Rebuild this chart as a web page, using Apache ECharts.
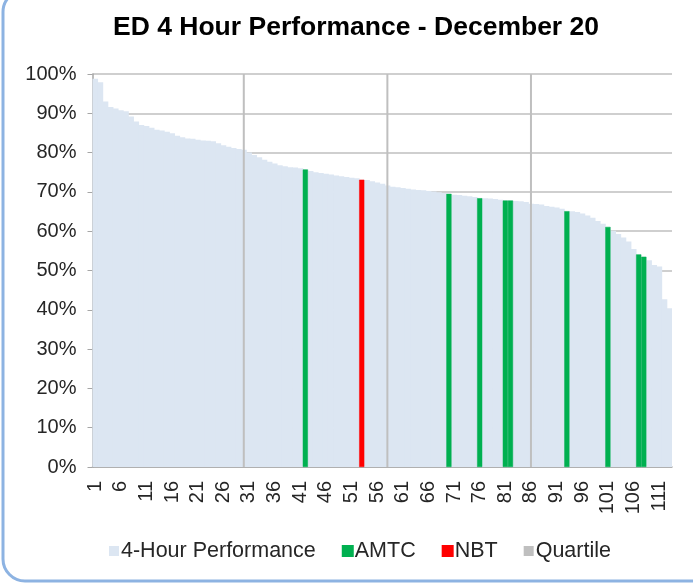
<!DOCTYPE html>
<html>
<head>
<meta charset="utf-8">
<script src="https://cdn.jsdelivr.net/npm/echarts@6/dist/echarts.min.js"></script>
<style>
  html, body { margin: 0; padding: 0; background: #fff; }
  #chart { width: 693px; height: 585px; }
</style>
</head>
<body>
<div id="chart"></div>
<script>
// 4-hour performance by trust, sorted high to low (percent)
var performance = [
    98.8, 97.9, 93.0, 91.6, 91.2, 90.8, 90.5, 89.2, 87.9, 87.0,
    86.8, 86.3, 85.8, 85.6, 85.3, 84.9, 84.3, 83.9, 83.6, 83.5,
    83.3, 83.1, 83.0, 82.9, 82.4, 81.9, 81.5, 81.2, 80.9, 80.7,
    80.0, 79.4, 78.8, 78.2, 77.7, 77.2, 76.8, 76.5, 76.3, 76.2,
    76.0, 75.7, 75.3, 75.0, 74.8, 74.6, 74.4, 74.2, 74.0, 73.8,
    73.6, 73.5, 73.1, 73.0, 72.7, 72.4, 72.1, 71.6, 71.3, 71.2,
    71.0, 70.8, 70.6, 70.5, 70.4, 70.2, 70.1, 69.9, 69.7, 69.5,
    69.3, 69.2, 69.0, 68.9, 68.7, 68.4, 68.4, 68.3, 68.2, 68.0,
    67.8, 67.8, 67.7, 67.6, 67.4, 67.0, 66.9, 66.8, 66.4, 66.2,
    66.0, 65.7, 65.1, 65.1, 64.9, 64.5, 64.0, 63.4, 62.6, 61.9,
    61.1, 60.1, 59.3, 58.4, 57.4, 55.5, 54.1, 53.5, 52.6, 51.4,
    51.0, 42.7, 40.4
];

// highlighted positions (1-based rank)
var amtcRanks = [42, 70, 76, 81, 82, 93, 101, 107, 108];
var nbtRanks = [53];
var quartileRanks = [30, 58, 86];
var quartileValue = 100;

var yTicks = { min: 0, max: 100, interval: 10 };

var categories = performance.map(function(v, idx) { return String(idx + 1); });

function pick(ranks) {
    return performance.map(function(v, idx) {
        return ranks.indexOf(idx + 1) >= 0 ? v : '-';
    });
}

var quartileData = performance.map(function(v, idx) {
    return quartileRanks.indexOf(idx + 1) >= 0 ? quartileValue : '-';
});

var chart = echarts.init(document.getElementById('chart'));

var font = 'Liberation Sans, Arial, sans-serif';
var axisFont = { fontFamily: font, fontSize: 20, color: '#262626' };

var option = {
    animation: false,
    textStyle: { fontFamily: font },
    graphic: [{
        type: 'rect',
        shape: { x: 3, y: -10, width: 740, height: 591, r: 22 },
        style: { fill: 'none', stroke: '#8DB3E2', lineWidth: 3 },
        z: 100
    }],
    title: {
        text: 'ED 4 Hour Performance - December 20',
        left: 108,
        top: 9,
        textStyle: { fontSize: 26.5, fontWeight: 'bold', color: '#000', fontFamily: font }
    },
    legend: {
        bottom: 18,
        left: 104,
        icon: 'rect',
        itemWidth: 10,
        itemHeight: 10,
        itemGap: 26,
        textStyle: { fontSize: 21.5, color: '#262626', padding: [0, 0, 0, -3] },
        data: ['4-Hour Performance', 'AMTC', 'NBT', 'Quartile']
    },
    grid: { left: 92.5, right: 21, top: 74, bottom: 118 },
    xAxis: [{
        type: 'category',
        data: categories,
        axisLine: { lineStyle: { color: '#A6A6A6', width: 1.5 } },
        axisTick: { interval: 0, length: 5, lineStyle: { color: '#A6A6A6' } },
        axisLabel: Object.assign({ interval: 4, rotate: 90, margin: 14 }, axisFont),
        splitLine: { show: false }
    }, {
        type: 'category',
        data: categories,
        show: false
    }, {
        type: 'category',
        data: categories,
        show: false
    }],
    yAxis: {
        type: 'value',
        min: yTicks.min,
        max: yTicks.max,
        interval: yTicks.interval,
        axisLine: { show: true, lineStyle: { color: '#A6A6A6', width: 1.5 } },
        axisTick: { show: true, length: 5, lineStyle: { color: '#A6A6A6' } },
        axisLabel: Object.assign({ formatter: '{value}%', margin: 16 }, axisFont),
        splitLine: { lineStyle: { color: '#BFBFBF', width: 1.5 } }
    },
    series: [{
        name: '4-Hour Performance',
        type: 'bar',
        xAxisIndex: 2,
        data: performance,
        barWidth: 6,
        z: 1,
        itemStyle: { color: '#DCE6F2' }
    }, {
        name: 'AMTC',
        type: 'bar',
        data: pick(amtcRanks),
        barCategoryGap: '0%',
        barGap: '-100%',
        z: 2,
        itemStyle: { color: '#00B050', borderColor: '#00B050', borderWidth: 0.5 }
    }, {
        name: 'NBT',
        type: 'bar',
        data: pick(nbtRanks),
        barGap: '-100%',
        z: 2,
        itemStyle: { color: '#FF0000', borderColor: '#FF0000', borderWidth: 0.5 }
    }, {
        name: 'Quartile',
        type: 'bar',
        xAxisIndex: 1,
        data: quartileData,
        barWidth: 2,
        z: 3,
        itemStyle: { color: '#BFBFBF' }
    }]
};

chart.setOption(option);
</script>
</body>
</html>
